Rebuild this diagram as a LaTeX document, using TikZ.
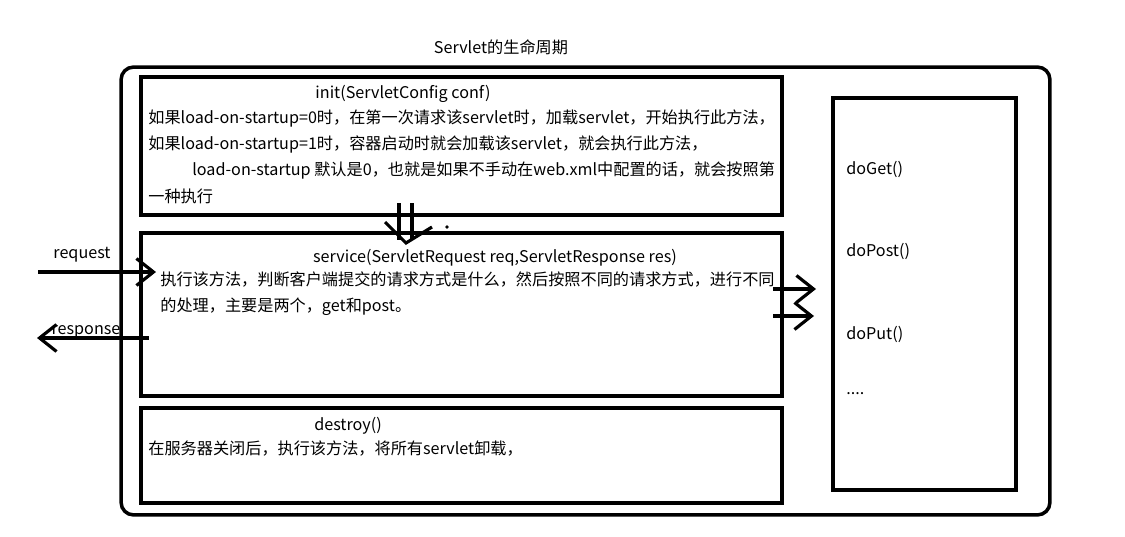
\documentclass[tikz,border=0pt]{standalone}
\usepackage{fontspec}
\setmainfont{Noto Sans CJK SC}
\usetikzlibrary{arrows.meta,positioning}

\begin{document}
\begin{tikzpicture}[
    x=0.02cm, y=-0.02cm,
    frame/.style={draw, line width=2pt, rounded corners=0.25cm},
    stage/.style={draw, line width=2pt},
    title/.style={font=\fontsize{9.2pt}{15pt}\selectfont, inner sep=0pt},
    body/.style={font=\fontsize{9.2pt}{15pt}\selectfont, inner sep=0pt, anchor=base west},
    flow/.style={line width=1.8pt, -{Straight Barb[length=3.4mm, width=5.4mm, line width=1.8pt]}}
]
    \useasboundingbox (0,0) rectangle (1125,537);

    % Title and outer frame
    \node[title, anchor=base] (lifetitle) at (501,54) {Servlet的生命周期};
    \node[frame, minimum width=18.58cm, minimum height=8.96cm] (outer) at (585.5,291) {};

    % init stage
    \node[stage, minimum width=12.82cm, minimum height=2.76cm] (init) at (461.5,146) {};
    \node[title, anchor=base] (inittitle) at (403,98) {init(ServletConfig conf)};
    \node[body] (initbody) at (148,123) {\begin{tabular}[t]{@{}l@{}}
        如果load-on-startup=0时，在第一次请求该servlet时，加载servlet，开始执行此方法，\\
        如果load-on-startup=1时，容器启动时就会加载该servlet，就会执行此方法，\\
        \hspace{0.88cm}load-on-startup 默认是0，也就是如果不手动在web.xml中配置的话，就会按照第\\
        一种执行
    \end{tabular}};

    % service stage
    \node[stage, minimum width=12.82cm, minimum height=3.26cm] (service) at (461.5,314.5) {};
    \node[title, anchor=base] (servicetitle) at (495,262) {service(ServletRequest req,ServletResponse res)};
    \node[body] (servicebody) at (160,285) {\begin{tabular}[t]{@{}l@{}}
        执行该方法，判断客户端提交的请求方式是什么，然后按照不同的请求方式，进行不同\\
        的处理，主要是两个，get和post。
    \end{tabular}};

    % destroy stage
    \node[stage, minimum width=12.82cm, minimum height=1.9cm] (destroy) at (461.5,455.5) {};
    \node[title, anchor=base] (destroytitle) at (348,430) {destroy()};
    \node[body] (destroybody) at (148,454) {在服务器关闭后，执行该方法，将所有servlet卸载，};

    % doXxx methods
    \node[stage, minimum width=3.66cm, minimum height=7.84cm] (methods) at (924.5,294) {};
    \node[body] (doget) at (846,174) {doGet()};
    \node[body] (dopost) at (846,256) {doPost()};
    \node[body] (doput) at (846,339) {doPut()};
    \node[body] (domore) at (846,394) {....};

    % init -> service
    \coordinate (downa) at (399,203);
    \coordinate (downb) at (412,203);
    \coordinate (downc) at (399,240);
    \coordinate (downd) at (412,240);
    \draw[line width=1.8pt] (downa) -- (downc);
    \draw[line width=1.8pt] (downb) -- (downd);
    \draw[line width=1.8pt] (385,222) -- (406,243) -- (432,227);
    \fill (447,227) circle (1.8);

    % request / response
    \coordinate (reqfrom) at (38,272);
    \coordinate (reqto) at (156,272);
    \draw[flow] (reqfrom) -- (reqto);
    \node[title, anchor=base] (reqlabel) at (82,258) {request};
    \coordinate (resfrom) at (149,338);
    \coordinate (resto) at (37,338);
    \draw[flow] (resfrom) -- (resto);
    \node[title, anchor=base] (reslabel) at (86,334) {response};

    % service -> methods
    \coordinate (getfrom) at (773,289);
    \coordinate (getto) at (816,289);
    \draw[flow] (getfrom) -- (getto);
    \coordinate (postfrom) at (773,316);
    \coordinate (postto) at (814,316);
    \draw[flow] (postfrom) -- (postto);
\end{tikzpicture}
\end{document}
